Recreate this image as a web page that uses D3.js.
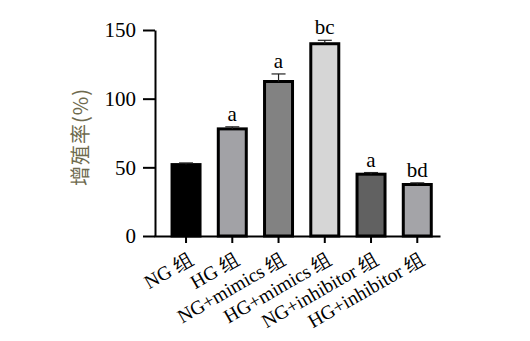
<!DOCTYPE html>
<html>
<head>
<meta charset="utf-8">
<script src="https://cdn.jsdelivr.net/npm/d3@7/dist/d3.min.js"></script>
<style>
html,body{margin:0;padding:0;background:#fff;}
svg{display:block;}
</style>
</head>
<body>
<svg id="chart" width="530" height="341"></svg>
<script>
const categories = ["NG 组", "HG 组", "NG+mimics 组", "HG+mimics 组", "NG+inhibitor 组", "HG+inhibitor 组"];
const values = [52, 78, 112.5, 140, 45, 37.5];
const errors = [1.2, 1.5, 5.5, 2.5, 1.2, 1.2];
const letters = ["", "a", "a", "bc", "a", "bd"];
const fills = ["#000000", "#a2a2a6", "#828282", "#d6d6d6", "#616161", "#a4a4a8"];
const yTicks = [0, 50, 100, 150];

const svg = d3.select("#chart");
const serif = "'Liberation Serif','Times New Roman',serif";

const x = d3.scaleBand().domain(categories).range([154, 440])
  .paddingInner(0.33).paddingOuter(0.257).align(0.696);
const y = d3.scaleLinear().domain([0, 150]).range([236, 30]);

// Y axis
const yAxis = svg.append("g").attr("transform", "translate(155,0)")
  .call(d3.axisLeft(y).tickValues(yTicks).tickSize(12).tickPadding(7).tickSizeOuter(0));
yAxis.select(".domain").attr("stroke", "#000").attr("stroke-width", 2);
yAxis.selectAll(".tick line").attr("stroke", "#000").attr("stroke-width", 2);
yAxis.selectAll(".tick text").attr("font-family", serif).attr("font-size", 21).attr("fill", "#000");

// Bars
const bars = svg.append("g");
bars.selectAll("rect").data(values).enter().append("rect")
  .attr("x", (d, i) => x(categories[i]) + 1.5)
  .attr("width", x.bandwidth() - 3)
  .attr("y", d => y(d))
  .attr("height", d => y(0) - y(d))
  .attr("fill", (d, i) => fills[i])
  .attr("stroke", "#000")
  .attr("stroke-width", 3);

// Error bars
const eb = svg.append("g").attr("stroke", "#222").attr("stroke-width", 1.2);
values.forEach((v, i) => {
  const cx = x(categories[i]) + x.bandwidth() / 2;
  eb.append("line").attr("x1", cx).attr("x2", cx).attr("y1", y(v)).attr("y2", y(v + errors[i]));
  eb.append("line").attr("x1", cx - 7).attr("x2", cx + 7).attr("y1", y(v + errors[i])).attr("y2", y(v + errors[i]));
});

// Significance letters
svg.append("g").selectAll("text").data(letters).enter().append("text")
  .attr("x", (d, i) => x(categories[i]) + x.bandwidth() / 2)
  .attr("y", (d, i) => y(values[i] + errors[i]) - 6)
  .attr("text-anchor", "middle")
  .attr("font-family", serif).attr("font-size", 21).attr("fill", "#000")
  .text(d => d);

// X axis
const xAxis = svg.append("g").attr("transform", "translate(0,236)")
  .call(d3.axisBottom(x).tickSize(7).tickSizeOuter(0));
xAxis.select(".domain").attr("stroke", "#000").attr("stroke-width", 2);
xAxis.selectAll(".tick line").attr("stroke", "#000").attr("stroke-width", 2);
xAxis.selectAll(".tick text")
  .attr("font-family", serif).attr("font-size", 19.5).attr("fill", "#000")
  .attr("text-anchor", "end").attr("x", 0).attr("y", 0).attr("dy", 0)
  .attr("transform", "translate(9,27) rotate(-30)");

// Y label
svg.append("text")
  .attr("transform", "translate(88,137) rotate(-90)")
  .attr("text-anchor", "middle")
  .attr("font-family", "'Noto Sans CJK SC', sans-serif")
  .attr("font-size", 20).attr("letter-spacing", 1).attr("fill", "#6e6a4e")
  .text("增殖率(%)");
</script>
</body>
</html>
